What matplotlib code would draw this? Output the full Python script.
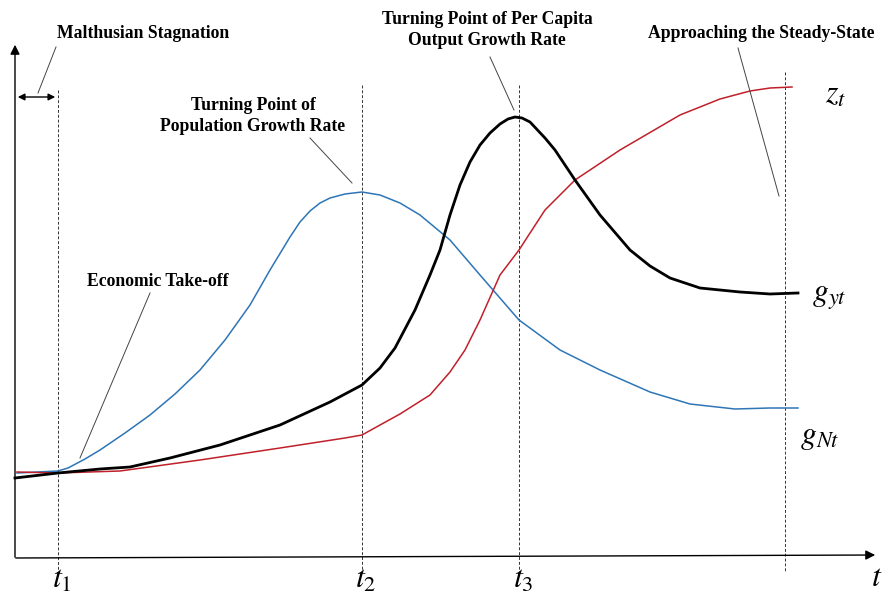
import matplotlib.pyplot as plt

plt.rcParams['font.family'] = ['Liberation Serif', 'DejaVu Serif']
plt.rcParams['mathtext.fontset'] = 'stix'

# curve points (x = time position, y = height, image coords)
pop_x = [17, 58, 68, 85, 100, 125, 150, 175, 200, 225, 250, 270, 290, 300, 310, 320, 330,
         345, 362, 380, 400, 420, 450, 480, 519, 560, 600, 650, 690, 735, 770, 798]
pop_y = [473, 471, 468, 459, 450, 433, 415, 394, 370, 340, 305, 270, 237, 222, 211, 203, 198,
         194, 192, 195, 203, 215, 240, 275, 320, 350, 370, 392, 404, 409, 408, 408]

out_x = [15, 58, 100, 130, 170, 220, 280, 330, 362, 380, 395, 415, 430, 440, 450, 460, 470,
         480, 490, 500, 508, 515, 522, 530, 545, 555, 575, 600, 630, 650, 670, 700, 740, 770,
         798]
out_y = [478, 473, 469, 467, 458, 445, 425, 402, 385, 368, 348, 310, 275, 250, 215, 185, 162,
         145, 133, 124, 119, 117, 118, 122, 138, 150, 180, 215, 250, 266, 278, 288, 292, 294,
         293]

z_x = [17, 58, 120, 200, 280, 345, 362, 380, 400, 430, 450, 465, 480, 500, 519, 545, 575,
       620, 680, 720, 750, 770, 792]
z_y = [472, 473, 471, 460, 448, 438, 435, 425, 414, 395, 372, 350, 320, 275, 250, 210, 180,
       150, 115, 99, 91, 88, 87]

t_marks = [58, 362, 519, 785]
t_tops = [90, 85, 85, 72]
t_names = ['$t_1$', '$t_2$', '$t_3$']

fig = plt.figure(figsize=(8.85, 6.02), dpi=100)
ax = fig.add_axes([0, 0, 1, 1])
ax.set_xlim(0, 885)
ax.set_ylim(602, 0)
ax.axis('off')

# axes with arrow heads
ax.annotate('', xy=(15, 42), xytext=(15, 560),
            arrowprops=dict(arrowstyle='-|>', color='black', lw=1.0, mutation_scale=14))
ax.annotate('', xy=(878, 555), xytext=(13, 558),
            arrowprops=dict(arrowstyle='-|>', color='black', lw=1.0, mutation_scale=14))

# dashed time markers
for x, top in zip(t_marks, t_tops):
    ax.plot([x, x], [top, 572], ls=(0, (3, 2)), color='#333333', lw=0.7)

ax.plot(pop_x, pop_y, color='#2E75B6', lw=1.1)
ax.plot(z_x, z_y, color='#C0202A', lw=1.1)
ax.plot(out_x, out_y, color='black', lw=2.0)

# malthusian span arrow
ax.annotate('', xy=(15, 97), xytext=(58, 97),
            arrowprops=dict(arrowstyle='<|-|>', color='black', lw=1.0, mutation_scale=10))

bold = dict(fontweight='bold', fontsize=12.7, ha='center', va='center')
ax.text(143, 33, 'Malthusian Stagnation', **bold)
ax.plot([56, 38], [47, 93], color='#444444', lw=0.7)

ax.text(253, 116, 'Turning Point of\nPopulation Growth Rate', linespacing=1.25, **bold)
ax.plot([310, 352], [138, 183], color='#444444', lw=0.7)

ax.text(158, 281, 'Economic Take-off', **bold)
ax.plot([150, 80], [293, 458], color='#444444', lw=0.7)

ax.text(487, 30, 'Turning Point of Per Capita\nOutput Growth Rate', linespacing=1.25, **bold)
ax.plot([490, 514], [57, 110], color='#444444', lw=0.7)

ax.text(761, 33, 'Approaching the Steady-State', **bold)
ax.plot([738, 779], [48, 196], color='#444444', lw=0.7)

# curve names and time labels
ax.text(825, 95, '$z_t$', fontsize=23, ha='left', va='center')
ax.text(812, 297, '$g_{yt}$', fontsize=23, ha='left', va='center')
ax.text(800, 437, '$g_{Nt}$', fontsize=23, ha='left', va='center')
ax.text(877, 578, '$t$', fontsize=23, ha='center', va='center')
for x, name in zip(t_marks[:3], t_names):
    ax.text(x + 4, 580, name, fontsize=23, ha='center', va='center')

fig.savefig('out.png', dpi=100)
